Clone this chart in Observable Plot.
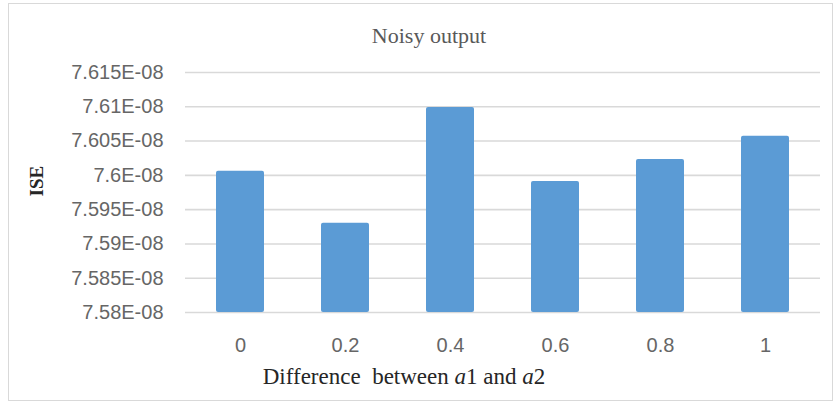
<!DOCTYPE html>
<html>
<head>
<meta charset="utf-8">
<script src="https://cdn.jsdelivr.net/npm/d3@7"></script>
<script src="https://cdn.jsdelivr.net/npm/@observablehq/plot@0.6"></script>
<style>
  html, body { margin: 0; padding: 0; background: #ffffff; }
  #chart { position: relative; width: 836px; height: 407px; }
  #chart .border {
    position: absolute; left: 8px; top: 3px; width: 825px; height: 398px;
    border: 1px solid #d9d9d9; box-sizing: border-box; pointer-events: none;
  }
</style>
</head>
<body>
<div id="chart"><div class="border"></div></div>
<script>
// Difference between a1 and a2 (categories) and the resulting ISE
const diffLabels = ["0", "0.2", "0.4", "0.6", "0.8", "1"];
const iseValues = [7.6006e-8, 7.5930e-8, 7.6099e-8, 7.5991e-8, 7.6023e-8, 7.6057e-8];

// Value axis ticks and their printed labels
const yTicks = [7.58e-8, 7.585e-8, 7.59e-8, 7.595e-8, 7.6e-8, 7.605e-8, 7.61e-8, 7.615e-8];
const yTickLabels = ["7.58E-08", "7.585E-08", "7.59E-08", "7.595E-08", "7.6E-08", "7.605E-08", "7.61E-08", "7.615E-08"];

const titleText = "Noisy output";
const yTitle = "ISE";
const xTitle = "Difference  between a1 and a2";

const rows = diffLabels.map((d, i) => ({diff: d, ise: iseValues[i]}));
const yDomain = [yTicks[0], yTicks[yTicks.length - 1]];
const serif = "Liberation Serif, Times New Roman, serif";

const chart = Plot.plot({
  width: 836,
  height: 407,
  marginLeft: 185,
  marginRight: 16,
  marginTop: 72,
  marginBottom: 95,
  style: {fontFamily: "Liberation Sans, Arial, sans-serif", fontSize: "20px", color: "#666666", background: "transparent"},
  x: {type: "band", domain: diffLabels, paddingInner: 0.546, paddingOuter: 0.273},
  y: {domain: yDomain},
  marks: [
    Plot.ruleY(yTicks, {stroke: "#d9d9d9", strokeWidth: 1.6}),
    Plot.barY(rows, {x: "diff", y1: () => yDomain[0], y2: "ise", fill: "#5b9bd5", rx: 2}),
    Plot.axisY({ticks: yTicks, tickFormat: d => yTickLabels[yTicks.indexOf(d)], tickSize: 0, tickPadding: 22, label: null}),
    Plot.axisX({tickSize: 0, tickPadding: 25, label: null}),
    Plot.text([titleText], {frameAnchor: "top", dx: -74, dy: -45, fontFamily: serif, fontSize: 22, fill: "#595959"}),
    Plot.text([yTitle], {frameAnchor: "left", dx: -149, dy: 4, rotate: -90, fontFamily: serif, fontSize: 19, fontWeight: "bold", fill: "#262626"}),
    Plot.text([xTitle], {frameAnchor: "bottom", dx: -99, dy: 71, fontFamily: serif, fontSize: 23, fill: "#262626"})
  ]
});

document.getElementById("chart").prepend(chart);

// Set the symbols a1 and a2 with an italic "a"
d3.select(chart).selectAll("text")
  .filter(function () { return this.textContent === xTitle; })
  .each(function () {
    const t = d3.select(this);
    const parts = xTitle.split(/(a[12])/).filter(p => p);
    t.text(null);
    parts.forEach(p => {
      if (/^a[12]$/.test(p)) {
        t.append("tspan").style("font-style", "italic").text("a");
        t.append("tspan").text(p[1]);
      } else {
        t.append("tspan").text(p);
      }
    });
  })
  .style("white-space", "pre");
</script>
</body>
</html>
